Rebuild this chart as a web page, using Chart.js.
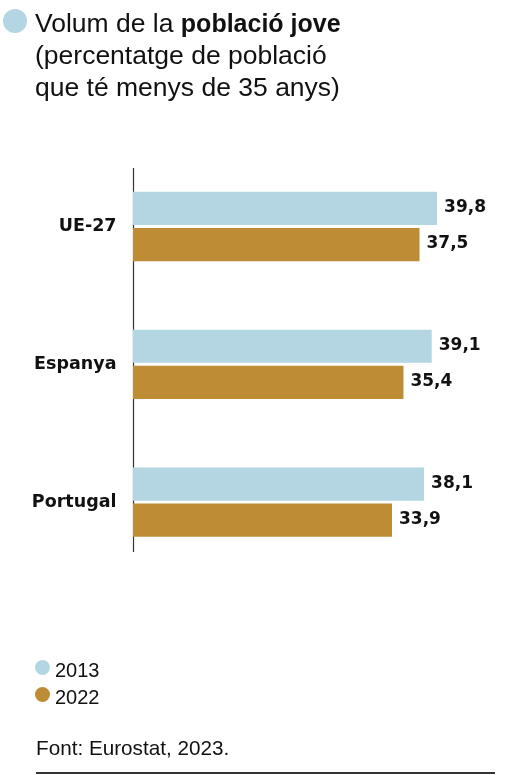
<!DOCTYPE html>
<html>
<head>
<meta charset="utf-8">
<script src="https://cdn.jsdelivr.net/npm/chart.js@4.4.1/dist/chart.umd.min.js"></script>
<style>
  html, body { margin: 0; padding: 0; background: #fff; }
  body { width: 517px; height: 775px; position: relative; overflow: hidden;
         font-family: "Liberation Sans", Arial, sans-serif; color: #111; }
  #chartBox { position: absolute; left: 0; top: 0; width: 517px; height: 775px; }
  .tdot { position: absolute; left: 3px; top: 9px; width: 24px; height: 24px; border-radius: 50%; }
  .title { position: absolute; left: 35px; top: 7px; font-size: 26.5px; line-height: 32px; white-space: nowrap; }
  .title b { font-weight: 700; font-size: 25px; }
  #legend { position: absolute; left: 0; top: 657px; width: 300px; }
  .lrow { position: relative; height: 27px; font-size: 20px; line-height: 27px; }
  .lrow .dot { position: absolute; left: 34.5px; top: 3px; width: 15px; height: 15px; border-radius: 50%; }
  .lrow .txt { position: absolute; left: 55px; top: 0; }
  .source { position: absolute; left: 36px; top: 736px; font-size: 20.7px; line-height: 24px; white-space: nowrap; }
  .rule { position: absolute; left: 36px; top: 772px; width: 459px; height: 1.5px; background: #333; }
</style>
</head>
<body>
<div id="chartBox"><canvas id="c" width="517" height="775"></canvas></div>
<div class="tdot" id="tdot"></div>
<div class="title">Volum de la <b>població jove</b><br>(percentatge de població<br>que té menys de 35 anys)</div>
<div id="legend"></div>
<div class="source">Font: Eurostat, 2023.</div>
<div class="rule"></div>
<script>
const categories = ['UE-27', 'Espanya', 'Portugal'];
const seriesLabels = ['2013', '2022'];
const values2013 = [39.8, 39.1, 38.1];
const values2022 = [37.5, 35.4, 33.9];
const colors = ['#b3d6e2', '#be8c34'];

document.getElementById('tdot').style.background = colors[0];

const fmt = v => v.toFixed(1).replace('.', ',');

const valueLabels = {
  id: 'valueLabels',
  afterDatasetsDraw(chart) {
    const ctx = chart.ctx;
    ctx.save();
    ctx.font = 'bold 17px "DejaVu Sans"';
    ctx.fillStyle = '#111';
    ctx.textAlign = 'left';
    ctx.textBaseline = 'middle';
    chart.data.datasets.forEach((ds, di) => {
      const meta = chart.getDatasetMeta(di);
      meta.data.forEach((bar, i) => {
        ctx.fillText(fmt(ds.data[i]), bar.x + 7, bar.y - 0.5);
      });
    });
    ctx.restore();
  }
};

const axisLine = {
  id: 'axisLine',
  beforeDatasetsDraw(chart) {
    const { ctx, chartArea } = chart;
    ctx.save();
    ctx.strokeStyle = '#333';
    ctx.lineWidth = 1.2;
    ctx.beginPath();
    const x = Math.round(chartArea.left) + 0.5;
    ctx.moveTo(x, chartArea.top + 10.5);
    ctx.lineTo(x, chartArea.bottom - 19);
    ctx.stroke();
    ctx.restore();
  }
};

const chart = new Chart(document.getElementById('c'), {
  type: 'bar',
  data: {
    labels: categories,
    datasets: [
      { label: seriesLabels[0], data: values2013, backgroundColor: colors[0] },
      { label: seriesLabels[1], data: values2022, backgroundColor: colors[1] }
    ]
  },
  options: {
    indexAxis: 'y',
    responsive: false,
    animation: false,
    devicePixelRatio: 1,
    categoryPercentage: 0.524,
    barPercentage: 0.92,
    borderWidth: 0,
    layout: { padding: { top: 157.6, bottom: 204, left: 0, right: 2 } },
    plugins: { legend: { display: false }, tooltip: { enabled: false } },
    scales: {
      x: { min: 0, max: 50, display: false },
      y: {
        grid: { display: false, drawTicks: false },
        border: { display: false },
        ticks: {
          color: '#111',
          padding: 16.5,
          font: { family: 'DejaVu Sans', weight: 'bold', size: 17.5 }
        },
        afterFit(scale) { scale.width = 133; }
      }
    }
  },
  plugins: [axisLine, valueLabels]
});

const legend = document.getElementById('legend');
chart.data.datasets.forEach(ds => {
  const row = document.createElement('div');
  row.className = 'lrow';
  const dot = document.createElement('span');
  dot.className = 'dot';
  dot.style.background = ds.backgroundColor;
  const txt = document.createElement('span');
  txt.className = 'txt';
  txt.textContent = ds.label;
  row.appendChild(dot);
  row.appendChild(txt);
  legend.appendChild(row);
});
</script>
</body>
</html>
